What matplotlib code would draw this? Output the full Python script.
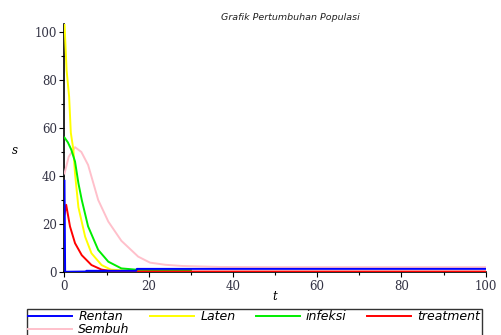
import numpy as np
import matplotlib
matplotlib.use("Agg")
import matplotlib.pyplot as plt
from matplotlib.lines import Line2D

# data (t, value)
t_rentan = [0, 0.15, 5, 5.2, 17, 17.2, 100]
s_rentan = [38, 0.1, 0.2, 0.5, 0.5, 1.3, 1.3]

t_laten = [0, 0.5, 1.1, 1.5, 2.1, 2.5, 3.3, 4.9, 6.4, 8.8, 11, 15, 20, 30]
s_laten = [103.5, 84, 73, 58, 51, 41, 27, 14.7, 7.8, 2.9, 1.0, 0.5, 0.3, 0.3]

t_infeksi = [0, 0.8, 1.6, 2.5, 3.3, 4.1, 5.6, 8, 10.4, 13.5, 17.5, 22, 30]
s_infeksi = [56, 54, 51, 46, 37, 30, 19, 9.2, 4.3, 1.5, 0.9, 0.8, 0.8]

t_treat = [0, 0.4, 1.3, 2.5, 4.1, 6.4, 8.8, 11, 15, 100]
s_treat = [24, 28, 19, 12, 7, 2.9, 1.0, 0.4, 0.2, 0.2]

t_sembuh = [0, 1, 2.5, 4, 5.6, 8, 10.4, 13.5, 17.5, 20.3, 24, 28, 36.8, 50, 100]
s_sembuh = [41, 48, 52, 50, 44.6, 30, 21, 13, 6.4, 3.9, 3.0, 2.5, 2.1, 2.0, 2.0]

labels = ["Rentan", "Laten", "infeksi", "treatment", "Sembuh"]
colors = ["#0000ff", "#ffff00", "#00ee00", "#ff0000", "#ffc0cb"]

fig = plt.figure(figsize=(5.02, 3.35), dpi=100)
ax = fig.add_axes([64.5 / 502, 1 - 272 / 335, 421.2 / 502, 248 / 335])

series = [(t_rentan, s_rentan), (t_laten, s_laten), (t_infeksi, s_infeksi),
          (t_treat, s_treat), (t_sembuh, s_sembuh)]
order = [4, 1, 2, 3, 0]
handles = {}
for i in order:
    t, s = series[i]
    h, = ax.plot(t, s, color=colors[i], lw=1.4, label=labels[i], zorder=3 + (i == 0))
    handles[i] = h

ax.set_xlim(0, 100)
ax.set_ylim(0, 103.3)
for side in ["top", "right"]:
    ax.spines[side].set_visible(False)
for side in ["left", "bottom"]:
    ax.spines[side].set_linewidth(1.2)
    ax.spines[side].set_zorder(2)
ax.set_xticks([0, 20, 40, 60, 80, 100])
ax.set_xticks([10, 30, 50, 70, 90], minor=True)
ax.set_yticks([0, 20, 40, 60, 80, 100])
ax.set_yticks([10, 30, 50, 70, 90], minor=True)
ax.tick_params(which="major", direction="out", length=3.5, width=0.8, labelsize=8.5,
               labelcolor="#333344", pad=2)
ax.tick_params(which="minor", direction="out", length=2, width=0.8)
for lab in ax.get_xticklabels() + ax.get_yticklabels():
    lab.set_family("DejaVu Serif")

fig.text(290 / 502, 1 - 17 / 335, "Grafik Pertumbuhan Populasi", ha="center", va="center",
         fontsize=6.8, style="italic", color="#222222")
fig.text(15 / 502, 1 - 150 / 335, "s", ha="center", va="center", fontsize=8.5,
         style="italic", family="DejaVu Serif")
fig.text(275 / 502, 1 - 296 / 335, "t", ha="center", va="center", fontsize=8.5,
         style="italic", family="DejaVu Serif")

blank = Line2D([], [], alpha=0)
leg_h = [handles[0], handles[4], handles[1], blank, handles[2], blank, handles[3], blank]
leg_l = ["Rentan", "Sembuh", "Laten", "", "infeksi", "", "treatment", ""]
leg = fig.legend(leg_h, leg_l, ncol=4, loc="upper left",
                 bbox_to_anchor=(27 / 502, 1 - 309 / 335), borderaxespad=0,
                 handlelength=3.5, handletextpad=0.5, columnspacing=1.65,
                 labelspacing=0.0, borderpad=0.1, fancybox=False, frameon=True,
                 prop={"style": "italic", "size": 9})
leg.get_frame().set_edgecolor("black")
leg.get_frame().set_linewidth(1.0)
for line in leg.get_lines():
    line.set_linewidth(1.4)

fig.savefig("out.png", dpi=100)
